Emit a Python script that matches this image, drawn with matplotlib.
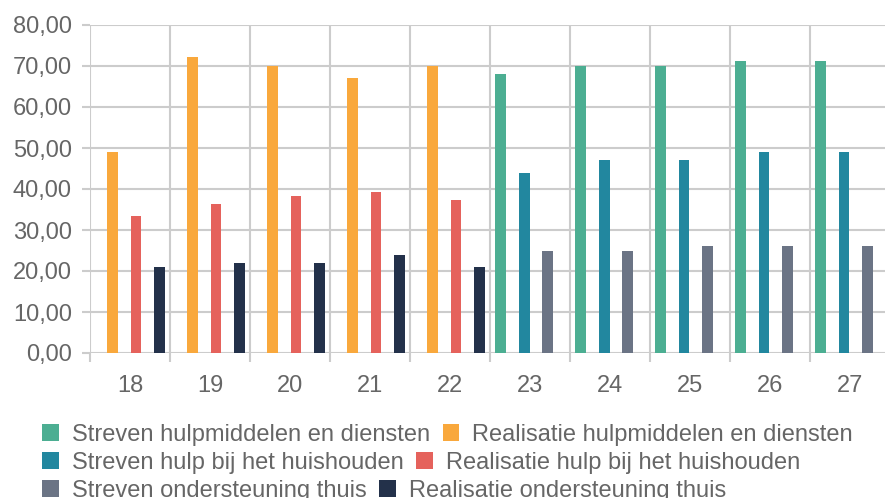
import numpy as np
import matplotlib.pyplot as plt
from matplotlib.ticker import FuncFormatter

plt.rcParams['font.family'] = ['Liberation Sans', 'DejaVu Sans']

jaren = ['18', '19', '20', '21', '22', '23', '24', '25', '26', '27']

# streven only for 23-27, realisatie only for 18-22
streven_hulpmiddelen = [None, None, None, None, None, 68.0, 70.0, 70.0, 71.3, 71.3]
realisatie_hulpmiddelen = [49.0, 72.3, 70.0, 67.0, 70.0, None, None, None, None, None]
streven_huishouden = [None, None, None, None, None, 44.0, 47.0, 47.0, 49.0, 49.0]
realisatie_huishouden = [33.3, 36.3, 38.2, 39.2, 37.2, None, None, None, None, None]
streven_thuis = [None, None, None, None, None, 25.0, 25.0, 26.0, 26.0, 26.0]
realisatie_thuis = [21.0, 22.0, 22.0, 24.0, 21.0, None, None, None, None, None]

series = [
    ('Streven hulpmiddelen en diensten', streven_hulpmiddelen, '#4cae92'),
    ('Realisatie hulpmiddelen en diensten', realisatie_hulpmiddelen, '#f9a83c'),
    ('Streven hulp bij het huishouden', streven_huishouden, '#22879f'),
    ('Realisatie hulp bij het huishouden', realisatie_huishouden, '#e5625c'),
    ('Streven ondersteuning thuis', streven_thuis, '#6b7485'),
    ('Realisatie ondersteuning thuis', realisatie_thuis, '#23314a'),
]

grijs = '#666666'
lijn = '#cccccc'

fig = plt.figure(figsize=(8.85, 4.98), dpi=100)
ax = fig.add_axes([90 / 885, 145 / 498, 800 / 885, 328 / 498])

x = np.arange(len(jaren))
slot = 0.1475
width = 0.135
handles = []
for i, (naam, vals, kleur) in enumerate(series):
    v = np.array([np.nan if w is None else w for w in vals], dtype=float)
    b = ax.bar(x + (i - 2.5) * slot, v, width, color=kleur, label=naam, zorder=3)
    handles.append(b)

ax.set_xlim(-0.5, len(jaren) - 0.5)
ax.set_ylim(0, 80)
ax.set_yticks(np.arange(0, 81, 10))
ax.yaxis.set_major_formatter(FuncFormatter(lambda v, p: f'{v:.2f}'.replace('.', ',')))
ax.set_xticks(x)
ax.set_xticklabels(jaren)
ax.set_xticks(np.arange(-0.5, len(jaren)), minor=True)

for s in ax.spines.values():
    s.set_visible(False)
ax.grid(axis='y', which='major', color=lijn, linewidth=1.5, zorder=0)
ax.grid(axis='x', which='minor', color=lijn, linewidth=1.5, zorder=0)
ax.tick_params(axis='y', length=6, width=1.5, color=lijn, pad=7, labelsize=17, labelcolor=grijs)
ax.tick_params(axis='x', which='major', length=0, pad=16, labelsize=17, labelcolor=grijs)
ax.tick_params(axis='x', which='minor', length=6.5, width=1.5, color=lijn)

# legend flows per row: one legend per row
rij_y = [435, 463, 491]
for r in range(3):
    leg = fig.legend(handles=handles[2 * r:2 * r + 2], loc='center left',
                     bbox_to_anchor=(42 / 885, 1 - rij_y[r] / 498), ncol=2,
                     frameon=False, fontsize=17, handlelength=0.7, handleheight=0.7,
                     handletextpad=0.55, columnspacing=0.55, borderpad=0,
                     borderaxespad=0)
    for t in leg.get_texts():
        t.set_color(grijs)

fig.savefig('out.png', dpi=100)
